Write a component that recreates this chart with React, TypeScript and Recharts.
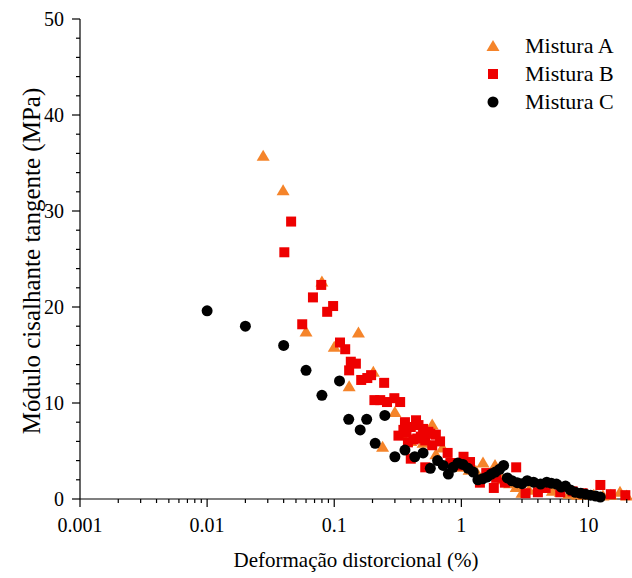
import React from "react";
import { ScatterChart, Scatter, XAxis, YAxis, Label } from "recharts";

const FONT = "Liberation Serif";
const ORANGE = "#F5842A";
const RED = "#EE0000";
const BLACK = "#000000";

// Mistura A
const strainA = [0.0276, 0.0396, 0.06, 0.08, 0.1, 0.131, 0.155, 0.203, 0.24, 0.30, 0.34, 0.4, 0.5, 0.59, 0.63, 0.71, 0.8, 0.9, 1.0, 1.15, 1.3, 1.48, 1.65, 1.84, 2.1, 2.4, 2.7, 3.0, 3.4, 3.9, 4.5, 5.2, 6.0, 7.0, 8.2, 9.5, 11, 13, 15, 17.7, 20];
const modulusA = [35.7, 32.1, 17.4, 22.6, 15.8, 11.7, 17.3, 13.2, 5.4, 9.0, 6.7, 6.0, 5.8, 7.7, 4.6, 5.3, 4.0, 3.6, 3.3, 3.0, 2.9, 3.75, 2.6, 3.5, 2.0, 1.6, 1.2, 0.6, 0.9, 1.0, 1.1, 0.8, 0.7, 0.5, 0.4, 0.4, 0.4, 0.3, 0.4, 0.7, 0.3];

// Mistura B
const strainB = [0.0405, 0.0458, 0.056, 0.068, 0.079, 0.088, 0.098, 0.111, 0.122, 0.131, 0.135, 0.148, 0.163, 0.182, 0.195, 0.207, 0.23, 0.247, 0.26, 0.297, 0.33, 0.32, 0.35, 0.36, 0.37, 0.38, 0.4, 0.4, 0.42, 0.44, 0.45, 0.46, 0.48, 0.5, 0.52, 0.52, 0.55, 0.57, 0.59, 0.63, 0.68, 0.78, 0.82, 0.94, 1.04, 1.17, 1.4, 1.57, 1.8, 1.88, 2.2, 2.7, 3.2, 4.0, 4.6, 6.0, 7.5, 9.0, 12.4, 15, 19.5];
const modulusB = [25.7, 28.9, 18.2, 21.0, 22.3, 19.5, 20.1, 16.3, 15.6, 13.4, 14.3, 14.1, 12.4, 12.6, 12.9, 10.3, 10.3, 12.1, 10.1, 10.5, 10.1, 6.6, 7.2, 8.0, 6.9, 5.9, 7.5, 4.2, 6.2, 8.2, 6.3, 7.7, 6.5, 7.3, 6.1, 3.3, 7.0, 6.8, 5.6, 6.7, 6.0, 4.8, 3.75, 3.5, 4.4, 3.85, 1.7, 2.7, 1.15, 2.2, 1.7, 3.3, 0.6, 0.7, 1.15, 0.7, 0.8, 0.6, 1.46, 0.5, 0.4];

// Mistura C
const strainC = [0.01, 0.02, 0.04, 0.06, 0.08, 0.11, 0.13, 0.16, 0.18, 0.21, 0.25, 0.3, 0.36, 0.43, 0.5, 0.57, 0.65, 0.72, 0.79, 0.86, 0.94, 1.03, 1.13, 1.24, 1.35, 1.47, 1.6, 1.72, 1.85, 2.0, 2.15, 2.3, 2.5, 2.75, 3.0, 3.3, 3.7, 4.2, 4.7, 5.1, 5.6, 6.1, 6.6, 7.2, 7.9, 8.7, 9.5, 10.4, 11.4, 12.4];
const modulusC = [19.6, 18.0, 16.0, 13.4, 10.8, 12.3, 8.3, 7.2, 8.3, 5.8, 8.7, 4.4, 5.1, 4.4, 4.8, 3.2, 4.0, 3.5, 2.6, 3.3, 3.75, 3.6, 3.2, 2.8, 2.0, 2.1, 2.3, 2.6, 2.8, 3.1, 3.5, 2.2, 1.9, 1.7, 1.6, 1.9, 1.75, 1.55, 1.75, 1.65, 1.55, 1.25, 1.35, 0.95, 0.7, 0.6, 0.5, 0.4, 0.3, 0.2];

const xTicks = [0.001, 0.002, 0.003, 0.004, 0.005, 0.006, 0.007, 0.008, 0.009,
  0.01, 0.02, 0.03, 0.04, 0.05, 0.06, 0.07, 0.08, 0.09,
  0.1, 0.2, 0.3, 0.4, 0.5, 0.6, 0.7, 0.8, 0.9,
  1, 2, 3, 4, 5, 6, 7, 8, 9, 10, 20];
const yTicks = [0, 2, 4, 6, 8, 10, 12, 14, 16, 18, 20, 22, 24, 26, 28, 30, 32, 34, 36, 38, 40, 42, 44, 46, 48, 50];

const toPoints = (xs: number[], ys: number[]) => xs.map((x, i) => ({ x, y: ys[i] }));
const dataA = toPoints(strainA, modulusA);
const dataB = toPoints(strainB, modulusB);
const dataC = toPoints(strainC, modulusC);

const TriangleShape = (p: any) => (
  <polygon points={`${p.cx},${p.cy - 6.5} ${p.cx - 6.5},${p.cy + 4.5} ${p.cx + 6.5},${p.cy + 4.5}`} fill={ORANGE} />
);
const SquareShape = (p: any) => <rect x={p.cx - 5} y={p.cy - 5} width={10} height={10} fill={RED} />;
const CircleShape = (p: any) => <circle cx={p.cx} cy={p.cy} r={5.5} fill={BLACK} />;

function XTick({ x, y, payload }: any) {
  const v = payload.value;
  const lg = Math.log10(v);
  const major = Math.abs(lg - Math.round(lg)) < 1e-6;
  return (
    <g>
      <line x1={x} x2={x} y1={y} y2={y + (major ? 8 : 4)} stroke="#000" strokeWidth={1.2} />
      {major && (
        <text x={x} y={y + 33} textAnchor="middle" style={{ fontSize: 20, fontFamily: FONT }} fill="#000">
          {String(v)}
        </text>
      )}
    </g>
  );
}

function YTick({ x, y, payload }: any) {
  const v = payload.value;
  const major = v % 10 === 0;
  return (
    <g>
      <line x1={x - (major ? 8 : 4)} x2={x} y1={y} y2={y} stroke="#000" strokeWidth={1.2} />
      {major && (
        <text x={x - 16} y={y} textAnchor="end" dominantBaseline="central" style={{ fontSize: 20, fontFamily: FONT }} fill="#000">
          {v}
        </text>
      )}
    </g>
  );
}

const legendItems = [
  { name: "Mistura A", icon: <polygon points="7,1 0.5,12 13.5,12" fill={ORANGE} /> },
  { name: "Mistura B", icon: <rect x={2} y={2} width={10} height={10} fill={RED} /> },
  { name: "Mistura C", icon: <circle cx={7} cy={7} r={5.5} fill={BLACK} /> },
];

export default function App() {
  return (
    <div style={{ position: "absolute", left: 0, top: 0, width: 632, height: 578, background: "#fff", fontFamily: FONT }}>
      <ScatterChart width={632} height={578} margin={{ top: 19, right: 0, bottom: 0, left: 0 }}>
        <XAxis
          type="number"
          dataKey="x"
          scale="log"
          domain={[0.001, 22]}
          allowDataOverflow
          ticks={xTicks}
          interval={0}
          height={79}
          tickSize={0}
          tickMargin={0}
          tickLine={false}
          tick={<XTick />}
          axisLine={{ stroke: "#000", strokeWidth: 1.2 }}
        >
          <Label
            content={() => (
              <text x={356} y={567} textAnchor="middle" style={{ fontSize: 21, fontFamily: FONT }} fill="#000">
                Deformação distorcional (%)
              </text>
            )}
          />
        </XAxis>
        <YAxis
          type="number"
          dataKey="y"
          domain={[0, 50]}
          ticks={yTicks}
          interval={0}
          width={80}
          tickSize={0}
          tickMargin={0}
          tickLine={false}
          tick={<YTick />}
          axisLine={{ stroke: "#000", strokeWidth: 1.2 }}
        >
          <Label
            content={() => (
              <text x={31} y={261} transform="rotate(-90, 31, 261)" textAnchor="middle" dominantBaseline="central" style={{ fontSize: 25, fontFamily: FONT }} fill="#000">
                Módulo cisalhante tangente (MPa)
              </text>
            )}
          />
        </YAxis>
        <Scatter name="Mistura A" data={dataA} shape={TriangleShape} isAnimationActive={false} />
        <Scatter name="Mistura B" data={dataB} shape={SquareShape} isAnimationActive={false} />
        <Scatter name="Mistura C" data={dataC} shape={CircleShape} isAnimationActive={false} />
      </ScatterChart>
      <div style={{ position: "absolute", left: 486, top: 32 }}>
        {legendItems.map((item) => (
          <div key={item.name} style={{ display: "flex", alignItems: "center", height: 28 }}>
            <svg width={14} height={14} style={{ marginRight: 25 }}>{item.icon}</svg>
            <span style={{ fontSize: 22, color: "#000", lineHeight: "28px", fontFamily: FONT }}>{item.name}</span>
          </div>
        ))}
      </div>
    </div>
  );
}
